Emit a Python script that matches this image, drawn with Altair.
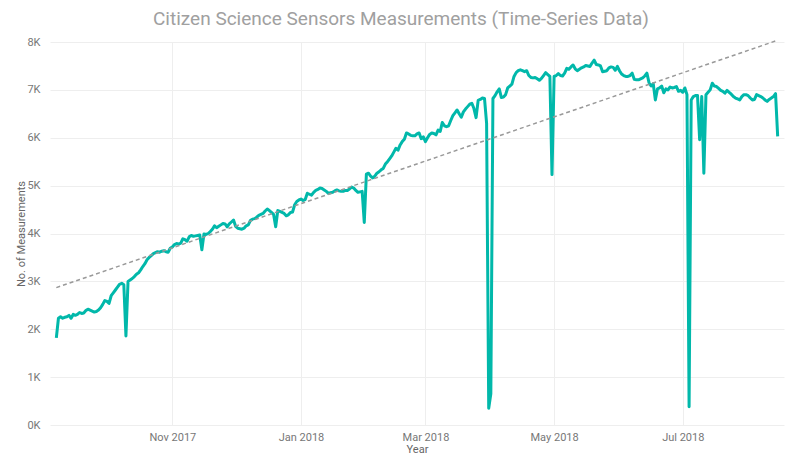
import altair as alt
import pandas as pd

# Daily number of measurements, starting 2017-09-07
start_date = "2017-09-07"
values = [
    1820, 2230, 2260, 2230, 2250, 2260, 2290, 2230, 2310, 2290,
    2310, 2350, 2330, 2340, 2390, 2420, 2400, 2380, 2360, 2370,
    2400, 2450, 2520, 2600, 2580, 2540, 2700, 2760, 2820, 2880,
    2940, 2960, 2930, 1860, 3000, 3030, 3060, 3100, 3150, 3180,
    3240, 3310, 3370, 3450, 3500, 3540, 3580, 3600, 3620, 3610,
    3630, 3640, 3620, 3610, 3690, 3720, 3770, 3790, 3780, 3800,
    3890, 3870, 3840, 3930, 3960, 3940, 3950, 3960, 3970, 3660,
    3990, 3980, 4000, 4040, 4090, 4160, 4120, 4150, 4180, 4210,
    4200, 4140, 4200, 4240, 4280, 4150, 4110, 4100, 4090, 4110,
    4160, 4180, 4270, 4300, 4310, 4340, 4380, 4400, 4420, 4470,
    4510, 4480, 4440, 4400, 4140, 4480, 4460, 4440, 4420, 4370,
    4390, 4440, 4450, 4600, 4670, 4700, 4720, 4690, 4710, 4840,
    4820, 4800, 4860, 4900, 4920, 4950, 4940, 4910, 4880, 4840,
    4850, 4860, 4890, 4910, 4890, 4880, 4880, 4900, 4900, 4930,
    4970, 4950, 4900, 4860, 4870, 4880, 4230, 5240, 5260, 5200,
    5160, 5200, 5260, 5290, 5330, 5360, 5450, 5500, 5560, 5620,
    5700, 5780, 5740, 5850, 5920, 5970, 6100, 6080, 6050, 6040,
    6040, 6080, 6100, 5980, 6020, 5920, 6000, 6070, 6100, 6090,
    6060, 6160, 6130, 6320, 6250, 6230, 6250, 6360, 6460, 6520,
    6580, 6500, 6430, 6540, 6600, 6650, 6700, 6720, 6610, 6420,
    6780, 6800, 6830, 6820, 6300, 350, 650, 6820, 6880, 6960,
    7020, 6840, 6850, 6900, 7040, 7080, 7120, 7280, 7360, 7400,
    7420, 7400, 7380, 7400, 7300, 7260, 7250, 7260, 7230, 7200,
    7240, 7300, 7360, 7320, 7280, 5230, 7280, 7300, 7340, 7300,
    7290, 7350, 7450, 7430, 7480, 7520, 7440, 7400, 7430, 7460,
    7480, 7510, 7500, 7490, 7560, 7620, 7530, 7520, 7500, 7380,
    7390, 7400, 7460, 7480, 7470, 7410, 7490, 7400, 7330, 7300,
    7280, 7280, 7300, 7350, 7220, 7210, 7210, 7230, 7250, 7290,
    7350, 7150, 7080, 7130, 6790, 7020, 7040, 7080, 6940, 7020,
    7000, 7060, 7040, 7050, 7070, 6970, 6990, 6950, 7040, 6900,
    380, 6790, 6860, 6880, 6880, 5960, 6860, 5260, 6900, 6950,
    7000, 7140, 7080, 7070, 7030, 6990, 6970, 6930, 6990, 6950,
    6910, 6860, 6830, 6810, 6790, 6860, 6900, 6900, 6880, 6830,
    6790, 6800, 6900, 6880, 6860, 6830, 6790, 6760, 6800, 6830,
    6860, 6920, 6030,
]
x_domain = ["2017-09-04", "2018-08-18"]
y_ticks = [0, 1000, 2000, 3000, 4000, 5000, 6000, 7000, 8000]

df = pd.DataFrame({
    "date": pd.date_range(start_date, periods=len(values), freq="D"),
    "value": values,
})

FONT = "Roboto"

x_enc = alt.X(
    "date:T",
    title="Year",
    scale=alt.Scale(domain=x_domain),
    axis=alt.Axis(
        format="%b %Y",
        tickCount={"interval": "month", "step": 2},
        labelColor="#777777",
        labelFontSize=11,
        labelFont=FONT,
        labelPadding=6,
        titleColor="#666666",
        titleFont=FONT,
        titleFontSize=11,
        titleFontWeight="normal",
        titlePadding=1,
        domain=False,
        ticks=False,
        grid=True,
        gridColor="#eeeeee",
    ),
)
y_enc = alt.Y(
    "value:Q",
    title="No. of Measurements",
    scale=alt.Scale(domain=[0, 8000], nice=False),
    axis=alt.Axis(
        values=y_ticks,
        labelExpr="datum.value / 1000 + 'K'",
        labelColor="#777777",
        labelFontSize=11,
        labelFont=FONT,
        labelPadding=10,
        titleColor="#666666",
        titleFont=FONT,
        titleFontSize=11,
        titleFontWeight="normal",
        titlePadding=0,
        domain=False,
        ticks=False,
        grid=True,
        gridColor="#eeeeee",
    ),
)

line = alt.Chart(df).mark_line(
    color="#01B8AA", strokeWidth=3, strokeJoin="round"
).encode(x=x_enc, y=y_enc)

trend = alt.Chart(df).transform_regression(
    "date", "value"
).mark_line(
    color="#999999", strokeWidth=1.5, strokeDash=[4, 3]
).encode(x="date:T", y="value:Q")

chart = alt.layer(line, trend).properties(
    width=734,
    height=383,
    autosize=alt.AutoSizeParams(type="none"),
    padding={"left": 42, "top": 34, "right": 8, "bottom": 30},
    title=alt.TitleParams(
        "Citizen Science Sensors Measurements (Time-Series Data)",
        font=FONT,
        fontSize=19,
        fontWeight="normal",
        color="#a0a0a0",
        anchor="middle",
        dx=-16,
        offset=7,
    ),
).configure_view(stroke=None)

chart.save("out.html", embed_options={"renderer": "svg", "actions": False})
